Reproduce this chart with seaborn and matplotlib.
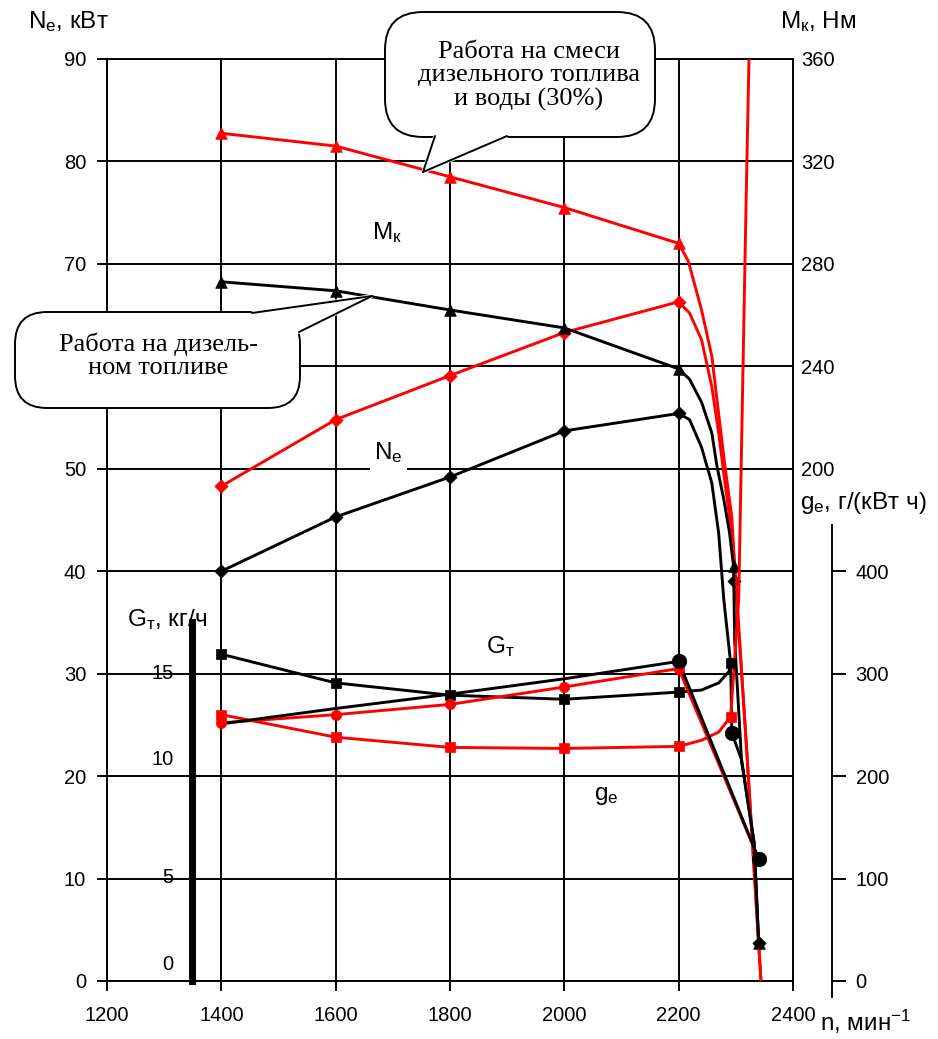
import numpy as np
import pandas as pd
import matplotlib
matplotlib.use('Agg')
import matplotlib.pyplot as plt
import seaborn as sns
from matplotlib.patches import FancyBboxPatch, Polygon
from matplotlib.lines import Line2D
from matplotlib.transforms import ScaledTranslation

sns.set_theme(style='white')
plt.rcParams['font.family'] = ['Liberation Sans', 'DejaVu Sans']
plt.rcParams['mathtext.fontset'] = 'custom'
plt.rcParams['mathtext.rm'] = 'Liberation Sans'
plt.rcParams['mathtext.it'] = 'Liberation Sans'

# ---------------- data ----------------
n_ticks = [1200, 1400, 1600, 1800, 2000, 2200, 2400]
ne_ticks = [0, 10, 20, 30, 40, 50, 60, 70, 80, 90]
ne_tick_labels = ['0', '10', '20', '30', '40', '50', '', '70', '80', '90']  # 60 hidden by callout
mk_ticks = [200, 240, 280, 320, 360]
ge_ticks = [0, 100, 200, 300, 400]
gt_ticks = [0, 5, 10, 15]

# diesel fuel (black)
ne_d_n = [1400, 1600, 1800, 2000, 2200, 2219, 2240, 2258, 2270, 2279, 2291, 2293, 2310, 2332, 2340]
ne_d = [40.0, 45.3, 49.2, 53.7, 55.4, 54.8, 52.1, 48.6, 43.7, 37.2, 31.0, 24.2, 21.6, 13.5, 3.7]
ne_d_mk_n = [1400, 1600, 1800, 2000, 2200, 2296, 2340]
ne_d_mk = [40.0, 45.3, 49.2, 53.7, 55.4, 39.0, 3.7]

mk_d_n = [1400, 1600, 1800, 2000, 2200, 2219, 2240, 2258, 2267, 2279, 2289, 2296, 2298, 2310, 2332, 2340]
mk_d = [273, 269.5, 262, 255, 239, 235, 226, 214, 201, 188, 175, 162, 133, 86, 54, 15]
mk_d_mk_n = [1400, 1600, 1800, 2000, 2200, 2296, 2340]
mk_d_mk = [273, 269.5, 262, 255, 239, 162, 15]

ge_d_n = [1400, 1600, 1800, 2000, 2200, 2240, 2270, 2288, 2291]
ge_d = [319, 291, 279, 275, 282, 284, 291, 302, 310]
ge_d_mk_n = [1400, 1600, 1800, 2000, 2200, 2291]
ge_d_mk = [319, 291, 279, 275, 282, 310]

gt_d_n = [1400, 1600, 1800, 2000, 2200, 2340]
gt_d = [12.55, 13.3, 14.0, 14.75, 15.6, 5.95]
gt_d_extra_n = [2293]
gt_d_extra = [12.1]

# diesel + water 30% (red)
ne_w_n = [1400, 1600, 1800, 2000, 2200, 2219, 2240, 2258, 2270, 2281, 2293, 2298, 2319, 2344]
ne_w = [48.3, 54.8, 59.1, 63.3, 66.3, 65.2, 62.6, 58.0, 53.5, 48.6, 43.7, 40.4, 22.6, 0.0]
ne_w_mk_n = [1400, 1600, 1800, 2000, 2200]
ne_w_mk = [48.3, 54.8, 59.1, 63.3, 66.3]

mk_w_n = [1400, 1600, 1800, 2000, 2200, 2217, 2240, 2258, 2267, 2281, 2293, 2298, 2319, 2344]
mk_w = [331, 326, 314, 302, 288, 281, 262, 244, 227, 201, 181, 162, 90, 0]
mk_w_mk_n = [1400, 1600, 1800, 2000, 2200]
mk_w_mk = [331, 326, 314, 302, 288]

ge_w_n = [1400, 1600, 1800, 2000, 2200, 2240, 2270, 2291, 2305, 2318, 2323]
ge_w = [260, 238, 228, 227, 229, 235, 243, 258, 372, 762, 900]
ge_w_mk_n = [1400, 1600, 1800, 2000, 2200, 2291]
ge_w_mk = [260, 238, 228, 227, 229, 258]

gt_w_n = [1400, 1600, 1800, 2000, 2200, 2340]
gt_w = [12.6, 13.0, 13.5, 14.35, 15.25, 5.95]

RED = '#ff0000'
BLACK = '#000000'
LW = 2.1

# ---------------- figure ----------------
W, H = 938, 1039
fig = plt.figure(figsize=(W / 100, H / 100), dpi=100)
L, R, T, B = 107, 793, 59, 981
ax = fig.add_axes([L / W, 1 - B / H, (R - L) / W, (B - T) / H])
ax2 = ax.twinx()   # Mk
ax3 = ax.twinx()   # ge
ax4 = ax.twinx()   # Gt

ax.set_xlim(1200, 2400)
ax.set_ylim(0, 90)
ax2.set_ylim(0, 360)
ax3.set_ylim(0, 900)
ax4.set_ylim(0, 45)

for a in (ax, ax2, ax3, ax4):
    a.patch.set_visible(False)
    a.grid(False)

ax.set_xticks(n_ticks)
ax.set_yticks(ne_ticks)
ax.set_yticklabels(ne_tick_labels)
ax.grid(True, color='black', lw=1.4)
for s in ax.spines.values():
    s.set_color('black'); s.set_linewidth(1.4); s.set_visible(True)
ax.tick_params(axis='both', direction='out', length=7, width=1.4, labelsize=14.5,
               colors='black', bottom=True, left=True)
ax.tick_params(axis='x', pad=11)
ax.tick_params(axis='y', pad=8)

# Mk axis
for s in ax2.spines.values():
    s.set_visible(False)
ax2.set_yticks(mk_ticks)
ax2.tick_params(axis='y', right=True, length=0, labelsize=14.5, pad=6, colors='black')

# ge axis
for k, s in ax3.spines.items():
    s.set_visible(k == 'right')
ax3.spines['right'].set_position(('axes', (832 - L) / (R - L)))
ax3.spines['right'].set_bounds(-16, 445)
ax3.spines['right'].set_color('black')
ax3.spines['right'].set_linewidth(1.4)
ax3.set_yticks(ge_ticks)
ax3.tick_params(axis='y', right=True, direction='out', length=10, width=1.4,
                labelsize=14.5, pad=7, colors='black')

# Gt axis (thick line)
for k, s in ax4.spines.items():
    s.set_visible(k == 'left')
ax4.yaxis.set_ticks_position('left')
ax4.yaxis.set_label_position('left')
ax4.spines['left'].set_position(('data', 1348))
ax4.spines['left'].set_bounds(0, 17.5)
ax4.spines['left'].set_linewidth(5)
ax4.spines['left'].set_color('black')
ax4.set_yticks(gt_ticks)
ax4.tick_params(axis='y', left=True, right=False, labelleft=True, labelright=False,
                length=0, labelsize=14.5, pad=13, colors='black')
nudges = {0: 19, 5: 3, 10: 19, 15: 2}
for t, lbl in zip(gt_ticks, ax4.get_yticklabels()):
    lbl.set_transform(lbl.get_transform() + ScaledTranslation(0, nudges[t] / 100, fig.dpi_scale_trans))


def line(a, n, v, color, lw=LW):
    df = pd.DataFrame({'n': n, 'v': v})
    sns.lineplot(data=df, x='n', y='v', ax=a, color=color, lw=lw, sort=False,
                 estimator=None, legend=False)


def marks(a, n, v, color, marker, size):
    df = pd.DataFrame({'n': n, 'v': v})
    sns.scatterplot(data=df, x='n', y='v', ax=a, color=color, marker=marker, s=size,
                    edgecolor=color, linewidth=0.5, legend=False, zorder=5)


# red (water mix)
line(ax2, mk_w_n, mk_w, RED)
line(ax, ne_w_n, ne_w, RED)
line(ax3, ge_w_n, ge_w, RED)
line(ax4, gt_w_n, gt_w, RED)
marks(ax2, mk_w_mk_n, mk_w_mk, RED, '^', 70)
marks(ax, ne_w_mk_n, ne_w_mk, RED, 'D', 45)
marks(ax3, ge_w_mk_n, ge_w_mk, RED, 's', 55)
marks(ax4, gt_w_n, gt_w, RED, 'o', 55)

# black (diesel)
line(ax2, mk_d_n, mk_d, BLACK)
line(ax, ne_d_n, ne_d, BLACK)
line(ax3, ge_d_n, ge_d, BLACK)
line(ax4, gt_d_n, gt_d, BLACK)
marks(ax2, mk_d_mk_n, mk_d_mk, BLACK, '^', 70)
marks(ax, ne_d_mk_n, ne_d_mk, BLACK, 'D', 45)
marks(ax3, ge_d_mk_n, ge_d_mk, BLACK, 's', 55)
marks(ax4, gt_d_n[-2:], gt_d[-2:], BLACK, 'o', 110)
marks(ax4, gt_d_extra_n, gt_d_extra, BLACK, 'o', 110)

for a in (ax, ax2, ax3, ax4):
    a.set_xlabel('')
    a.set_ylabel('')
ax.set_xlim(1200, 2400)
ax.set_xticks(n_ticks)
ax.set_xticklabels([str(v) for v in n_ticks])


# ---------------- texts ----------------
def ftext(x, y, s, size, ha='left', va='center', bg=False, **kw):
    t = fig.text(x / W, 1 - y / H, s, fontsize=size, ha=ha, va=va, color='black',
                 zorder=8, **kw)
    if bg:
        t.set_bbox(dict(facecolor='white', edgecolor='none', pad=3))
    return t


ftext(28, 22, r'$\mathregular{N_е}$, кВт', 17.5)
ftext(780, 22, r'$\mathregular{M_к}$, Нм', 17.5)
ftext(800, 503, r'$\mathregular{g_е}$, г/(кВт ч)', 17.5)
ftext(127, 620, r'$\mathregular{G_т}$, кг/ч', 17.5)
ftext(820, 1022, r'n, мин$\mathregular{^{-1}}$', 17.5)

ftext(372, 233, r'$\mathregular{M_к}$', 17.5)
ftext(374, 453, r'$\mathregular{N_е}$', 17.5, bg=True)
ftext(486, 647, r'$\mathregular{G_т}$', 17.5)
ftext(594, 796, r'$\mathregular{g_е}$', 17.5, bg=True)


# ---------------- callouts ----------------
def inch(x, y):
    return (x / 100, (H - y) / 100)


def callout(x0, y0, x1, y1, tail, text, cx, cy, rs):
    box = FancyBboxPatch(inch(x0, y1), (x1 - x0) / 100, (y1 - y0) / 100,
                         boxstyle=f'round,pad=0,rounding_size={rs}',
                         transform=fig.dpi_scale_trans, facecolor='white',
                         edgecolor='black', lw=1.4, zorder=10)
    fig.add_artist(box)
    p1, tip, p2 = tail
    fill = Polygon([inch(*p1), inch(*tip), inch(*p2)], closed=True,
                   transform=fig.dpi_scale_trans, facecolor='white',
                   edgecolor='white', lw=2.5, zorder=11)
    fig.add_artist(fill)
    for p in (p1, p2):
        a, b = inch(*p), inch(*tip)
        fig.add_artist(Line2D([a[0], b[0]], [a[1], b[1]], transform=fig.dpi_scale_trans,
                              color='black', lw=1.4, zorder=12))
    t = fig.text(cx / W, 1 - cy / H, text, fontsize=19, ha='center', va='center',
                 linespacing=1.08, zorder=13, color='black')
    t.set_family(['Liberation Serif', 'DejaVu Serif'])


callout(385, 12, 655, 137, [(435, 136), (423, 172), (507, 136)],
        'Работа на смеси\nдизельного топлива\nи воды (30%)', 529, 76, 0.38)
callout(15, 312, 300, 408, [(252, 313), (372, 296), (299, 332)],
        'Работа на дизель-\nном топливе', 158, 356, 0.32)

fig.savefig('out.png', dpi=100)
